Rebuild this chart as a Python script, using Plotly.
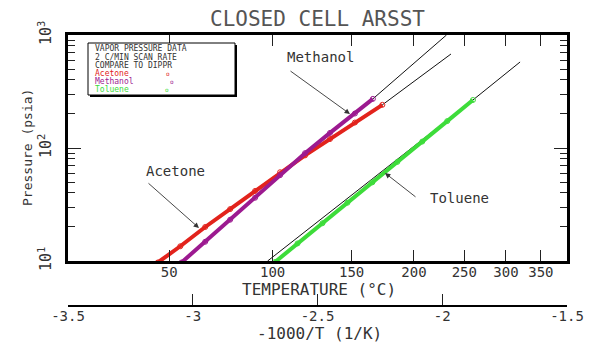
import plotly.graph_objects as go

# ---------------- data ----------------
# x values are -1000/T (1/K), pressures in psia
acetone_x = [-3.14, -3.05, -2.95, -2.85, -2.75, -2.65, -2.55, -2.45, -2.35, -2.24]
acetone_p = [9.7, 13.5, 20.0, 28.8, 41.7, 61.0, 86.0, 120.0, 168.0, 241.0]

methanol_x = [-3.045, -2.95, -2.85, -2.75, -2.65, -2.55, -2.45, -2.35, -2.278]
methanol_p = [9.7, 14.8, 23.2, 36.3, 57.5, 90.0, 136.0, 202.0, 272.0]

toluene_x = [-2.67, -2.58, -2.48, -2.38, -2.28, -2.18, -2.08, -1.98, -1.877]
toluene_p = [9.8, 14.3, 21.6, 32.8, 49.7, 75.3, 114.0, 173.0, 266.0]

# DIPPR correlation lines
acetone_fit_x = [-3.15, -2.65, -2.24, -1.965]
acetone_fit_p = [9.5, 61.0, 241.0, 679.0]
methanol_fit_x = [-3.05, -2.65, -2.278, -1.983]
methanol_fit_p = [9.6, 57.5, 272.0, 1000.0]
toluene_fit_x = [-2.70, -1.877, -1.688]
toluene_fit_p = [10.0, 266.0, 577.0]

# tick labels
temp_ticks_c = [50, 100, 150, 200, 250, 300, 350]
inv_ticks = [-3.5, -3.0, -2.5, -2.0, -1.5]
inv_tick_text = ["-3.5", "-3", "-2.5", "-2", "-1.5"]
p_ticks = [10, 100, 1000]
p_tick_text = ["10<sup>1</sup>", "10<sup>2</sup>", "10<sup>3</sup>"]
p_minor = [m * d for d in (10, 100) for m in range(2, 10)]

RED = "#e2231c"
PURPLE = "#9c1a90"
GREEN = "#3ddc3a"
TXT = "#333333"
FONT = "DejaVu Sans Mono"

W, H = 600, 351
L, R, T, B = 68, 33, 35, 45
PW, PH = W - L - R, H - T - B


def pxx(x):
    return (x - L) / PW


def pxy(y):
    return (H - B - y) / PH


y_bottom_frac = pxy(261)

fig = go.Figure()

for fx, fp in [(acetone_fit_x, acetone_fit_p), (methanol_fit_x, methanol_fit_p),
               (toluene_fit_x, toluene_fit_p)]:
    fig.add_trace(go.Scatter(x=fx, y=fp, mode="lines",
                             line=dict(color="#111111", width=1),
                             showlegend=False, hoverinfo="skip"))

for dx, dp, col in [(acetone_x, acetone_p, RED), (methanol_x, methanol_p, PURPLE),
                    (toluene_x, toluene_p, GREEN)]:
    fig.add_trace(go.Scatter(x=dx, y=dp, mode="lines+markers",
                             line=dict(color=col, width=4),
                             marker=dict(symbol="circle-open", size=5, color=col,
                                         line=dict(width=1, color=col)),
                             showlegend=False))

# dummy trace so the secondary axis is drawn
fig.add_trace(go.Scatter(x=inv_ticks, y=[None] * len(inv_ticks), xaxis="x2",
                         yaxis="y", showlegend=False, hoverinfo="skip"))

temp_pos = [-1000.0 / (t + 273.15) for t in temp_ticks_c]

fig.update_layout(
    width=W, height=H, autosize=False,
    margin=dict(l=L, r=R, t=T, b=B, pad=0),
    paper_bgcolor="white", plot_bgcolor="white",
    font=dict(family=FONT, color=TXT, size=14),
    showlegend=False,
    xaxis=dict(range=[-3.5, -1.5], tickmode="array", tickvals=temp_pos,
               ticktext=[str(t) for t in temp_ticks_c], ticks="inside",
               ticklen=11, tickwidth=1.2, tickcolor="#222",
               showline=True, linewidth=2.5, linecolor="black", mirror="ticks",
               showgrid=False, zeroline=False, anchor="y",
               ticklabelstandoff=-4,
               tickfont=dict(size=14, family=FONT, color=TXT)),
    xaxis2=dict(range=[-3.5, -1.5], tickmode="array", tickvals=inv_ticks,
                ticktext=inv_tick_text, ticks="inside", ticklen=11,
                tickwidth=1.2, tickcolor="#222", showline=True, linewidth=2,
                linecolor="black", showgrid=False, zeroline=False,
                overlaying="x", anchor="free", position=0, side="bottom",
                ticklabelstandoff=-3,
                tickfont=dict(size=14, family=FONT, color=TXT)),
    yaxis=dict(type="log", range=[1, 3], domain=[y_bottom_frac, 1],
               tickmode="array", tickvals=p_ticks, ticktext=p_tick_text,
               tickangle=-90, ticks="inside", ticklen=13, tickwidth=1.2,
               tickcolor="#222", showline=True, linewidth=2.5,
               linecolor="black", mirror="ticks", showgrid=False,
               zeroline=False, anchor="x", ticklabelstandoff=8,
               tickfont=dict(size=15, family=FONT, color=TXT),
               minor=dict(tickmode="array", tickvals=p_minor, ticks="inside",
                          ticklen=7, tickwidth=1.2, tickcolor="#222",
                          showgrid=False)),
)

ann = []
# title
ann.append(dict(text="CLOSED CELL ARSST", x=pxx(317), y=pxy(19), xref="paper",
                yref="paper", showarrow=False, xanchor="center", yanchor="middle",
                font=dict(size=21, family=FONT, color="#555")))
# axis titles
ann.append(dict(text="TEMPERATURE (°C)", x=pxx(319), y=pxy(289), xref="paper",
                yref="paper", showarrow=False, xanchor="center", yanchor="middle",
                font=dict(size=16, family=FONT, color=TXT)))
ann.append(dict(text="-1000/T (1/K)", x=pxx(319), y=pxy(333), xref="paper",
                yref="paper", showarrow=False, xanchor="center", yanchor="middle",
                font=dict(size=16, family=FONT, color=TXT)))
ann.append(dict(text="Pressure (psia)", x=pxx(27), y=pxy(148), xref="paper",
                yref="paper", showarrow=False, xanchor="center", yanchor="middle",
                textangle=-90, font=dict(size=13, family=FONT, color=TXT)))
# curve labels
for txt, cx, cy in [("Methanol", 320, 57), ("Acetone", 175, 171), ("Toluene", 459, 198)]:
    ann.append(dict(text=txt, x=pxx(cx), y=pxy(cy), xref="paper", yref="paper",
                    showarrow=False, xanchor="center", yanchor="middle",
                    font=dict(size=14, family=FONT, color=TXT)))
# arrows
for hx, hy, tx, ty in [(350, 114, 289, 70), (199, 228, 147, 182), (385, 173, 417, 198)]:
    ann.append(dict(text="", x=pxx(hx), y=pxy(hy), xref="paper", yref="paper",
                    showarrow=True, ax=tx - hx, ay=ty - hy, arrowhead=2,
                    arrowsize=1.2, arrowwidth=0.9, arrowcolor="#333"))
# legend box text
legend_lines = [("VAPOR PRESSURE DATA", TXT, 49), ("2 C/MIN SCAN RATE", TXT, 57),
                ("COMPARE TO DIPPR", TXT, 65), ("Acetone", RED, 73),
                ("Methanol", PURPLE, 81), ("Toluene", GREEN, 89)]
for txt, col, cy in legend_lines:
    ann.append(dict(text=txt, x=pxx(93), y=pxy(cy), xref="paper", yref="paper",
                    showarrow=False, xanchor="left", yanchor="middle",
                    font=dict(size=8, family=FONT, color=col)))
for col, cx, cy in [(RED, 168, 73), (PURPLE, 172, 81), (GREEN, 167, 89)]:
    ann.append(dict(text="o", x=pxx(cx), y=pxy(cy), xref="paper", yref="paper",
                    showarrow=False, xanchor="center", yanchor="middle",
                    font=dict(size=6, family=FONT, color=col)))
fig.update_layout(annotations=ann)

fig.update_layout(shapes=[
    dict(type="rect", xref="paper", yref="paper", x0=pxx(90), x1=pxx(237),
         y0=pxy(97), y1=pxy(45), fillcolor="black", line=dict(width=0),
         layer="above"),
    dict(type="rect", xref="paper", yref="paper", x0=pxx(88), x1=pxx(235),
         y0=pxy(95), y1=pxy(43), fillcolor="white",
         line=dict(width=1, color="black"), layer="above"),
])

fig.write_html("out.html")
